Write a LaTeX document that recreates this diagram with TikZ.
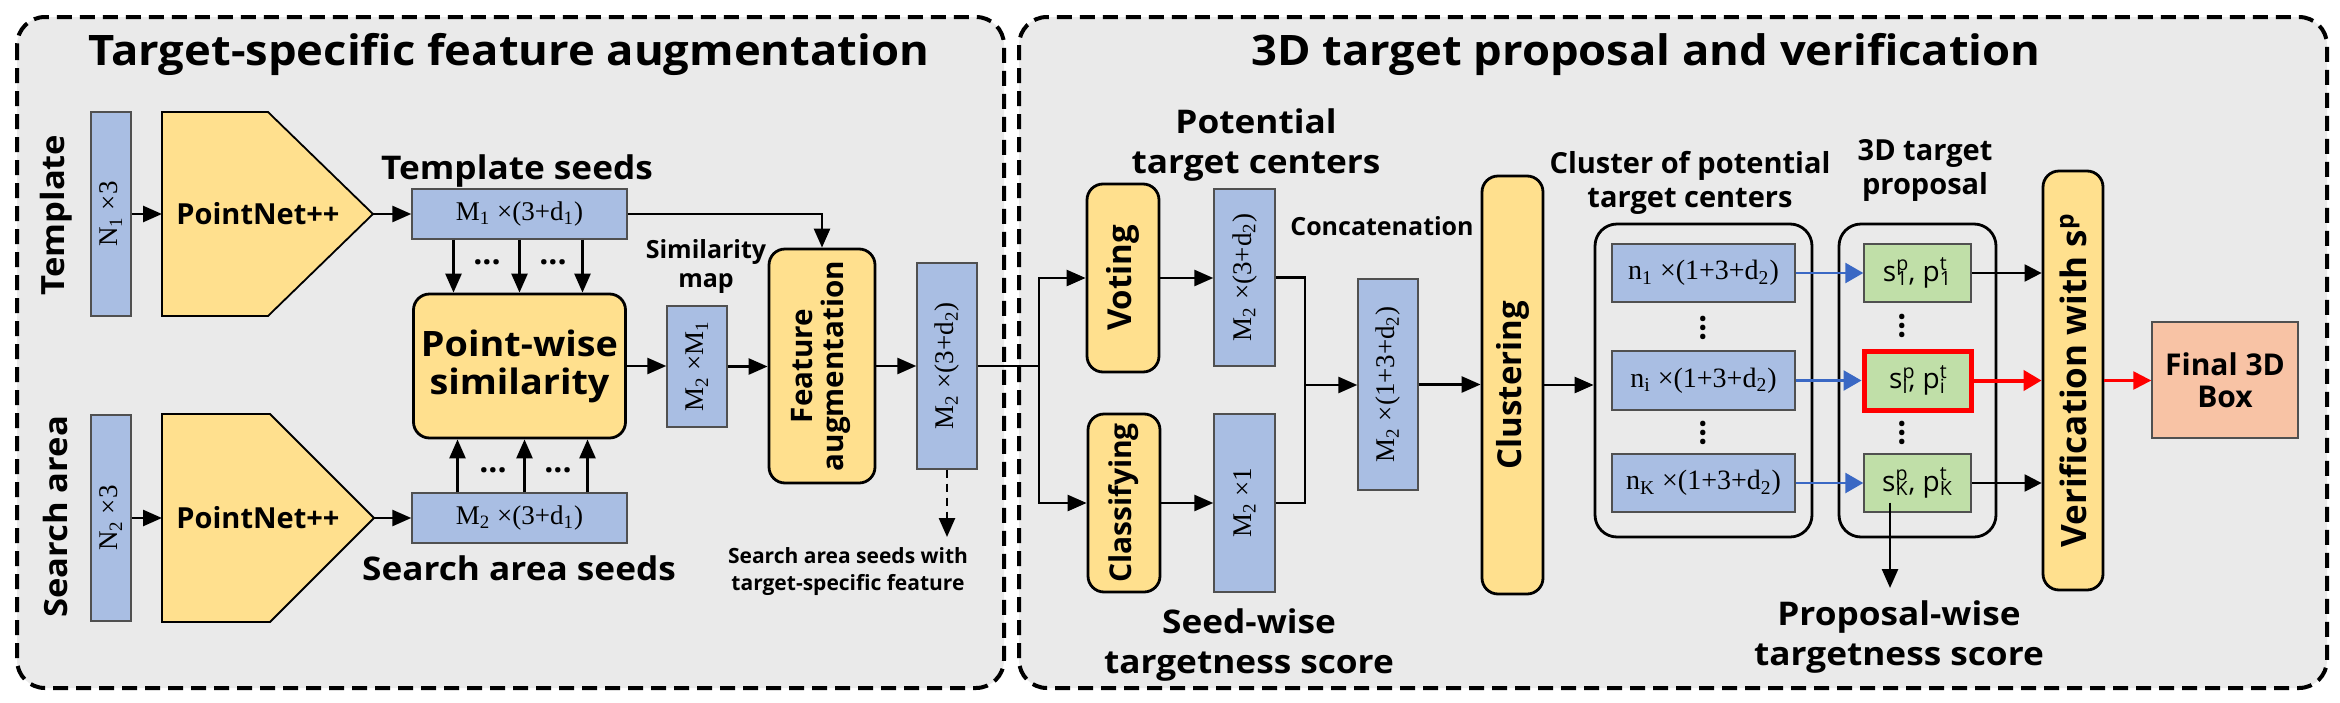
\documentclass[tikz,border=0pt]{standalone}
\usepackage{fontspec}
\usepackage{graphicx}
\setmainfont{Liberation Serif}
\setsansfont{Open Sans}
\newfontfamily\widesans{Open Sans}[FakeStretch=1.08]
\usetikzlibrary{arrows.meta,calc}
\definecolor{bluebox}{RGB}{169,190,227}
\definecolor{yellowbox}{RGB}{255,224,142}
\definecolor{greenbox}{RGB}{192,223,168}
\definecolor{salmonbox}{RGB}{248,195,165}
\definecolor{panelbg}{RGB}{234,234,234}
\definecolor{bluearrow}{RGB}{58,104,196}
\definecolor{boxedge}{RGB}{80,80,80}
\newcommand{\supsub}[2]{\rlap{\textsuperscript{#1}}\textsubscript{#2}}
\tikzset{
 bbox/.style={draw=boxedge, line width=0.7pt, fill=bluebox, inner sep=0pt, font=\fontsize{13.5pt}{16pt}\selectfont},
 ybox/.style={draw=black, line width=1.4pt, fill=yellowbox, rounded corners=8pt, inner sep=0pt, font=\sffamily\bfseries\fontsize{16.5pt}{17pt}\selectfont},
 gbox/.style={draw=boxedge, line width=0.7pt, fill=greenbox, inner sep=0pt, font=\sffamily\fontsize{14pt}{16pt}\selectfont},
 fbox/.style={draw=boxedge, line width=0.7pt, fill=salmonbox, inner sep=0pt, align=center, font=\sffamily\bfseries\fontsize{15pt}{16pt}\selectfont},
 grp/.style={draw=black, line width=1.4pt, rounded corners=11pt, inner sep=0pt},
 pent/.style={draw=black, line width=0.9pt, fill=yellowbox},
 pntext/.style={inner sep=0pt, font=\sffamily\bfseries\fontsize{14.5pt}{16pt}\selectfont},
 arr/.style={line width=1.3pt, -{Triangle[length=9.5pt,width=8pt]}},
 arrs/.style={line width=1.1pt, -{Triangle[length=8.5pt,width=8.5pt]}},
 barr/.style={draw=bluearrow, line width=1.3pt, -{Triangle[length=9pt,width=10pt]}},
 rarr/.style={draw=red, line width=2pt, -{Triangle[length=9pt,width=10pt]}},
 rarrs/.style={draw=red, line width=1.2pt, -{Triangle[length=9pt,width=9pt]}},
 ln/.style={line width=1.3pt},
 lab/.style={font=\widesans\bfseries\fontsize{16.3pt}{20pt}\selectfont, align=center, inner sep=0pt, anchor=base},
 mlab/.style={font=\sffamily\bfseries\fontsize{14.5pt}{17pt}\selectfont, align=center, inner sep=0pt, anchor=base},
 slab/.style={font=\sffamily\bfseries\fontsize{12.5pt}{14.5pt}\selectfont, align=center, inner sep=0pt, anchor=base},
 tlab/.style={font=\sffamily\bfseries\fontsize{10.5pt}{13.5pt}\selectfont, align=center, inner sep=0pt, anchor=base},
 title/.style={font=\widesans\bfseries\fontsize{21pt}{24pt}\selectfont, inner sep=0pt, anchor=base},
 dots/.style={font=\sffamily\bfseries\fontsize{16pt}{16pt}\selectfont, inner sep=0pt},
 panel/.style={draw=black, line width=2pt, dash pattern=on 7.5pt off 4pt, fill=panelbg, rounded corners=14pt},
}
\begin{document}
\begin{tikzpicture}[x=0.5pt,y=-0.5pt]
\useasboundingbox (0,0) rectangle (2340,702);
\draw[panel] (17,17) rectangle (1004,688);
\draw[panel] (1019,17) rectangle (2327,688);

% titles
\node[title] (t1) at (509,65) {Target-specific feature augmentation};
\node[title] (t2) at (1646,65) {3D target proposal and verification};

% left side labels
\node[inner sep=0pt, font=\widesans\bfseries\fontsize{16pt}{16pt}\selectfont] (ltemp) at (56,215) {\rotatebox{90}{Template}};
\node[inner sep=0pt, font=\widesans\bfseries\fontsize{16pt}{16pt}\selectfont] (lsearch) at (56,517) {\rotatebox{90}{Search area}};

% inputs
\node[bbox, minimum width=20pt, minimum height=102pt] (nA) at (111,214) {\rotatebox{90}{N\textsubscript{1} ×3}};
\node[bbox, minimum width=20pt, minimum height=103pt] (nB) at (111,518) {\rotatebox{90}{N\textsubscript{2} ×3}};

% PointNet++ blocks
\draw[pent] (162,112) -- (268,112) -- (373,214) -- (268,316) -- (162,316) -- cycle;
\coordinate (pnAin) at (162,214);
\coordinate (pnAout) at (373,214);
\node[pntext] (pnA) at (258,214) {PointNet++};
\draw[pent] (162,414) -- (270,414) -- (374,518) -- (270,622) -- (162,622) -- cycle;
\coordinate (pnBin) at (162,518);
\coordinate (pnBout) at (374,518);
\node[pntext] (pnB) at (258,518) {PointNet++};

% seeds
\node[bbox, minimum width=107.5pt, minimum height=25pt] (tseed) at (519.5,214) {M\textsubscript{1} ×(3+d\textsubscript{1})};
\node[bbox, minimum width=107.5pt, minimum height=25pt] (sseed) at (519.5,518) {M\textsubscript{2} ×(3+d\textsubscript{1})};
\node[lab] (ltseed) at (517,179) {Template seeds};
\node[lab] (lsseed) at (519,580) {Search area seeds};

% point-wise similarity
\node[ybox, minimum width=106pt, minimum height=72pt, align=center, font=\widesans\bfseries\fontsize{17.5pt}{19pt}\selectfont] (psim) at (519.5,366) {Point-wise\\similarity};
\node[dots] (d1) at (487,262) {...};
\node[dots] (d2) at (553,262) {...};
\node[dots] (d3) at (493,470) {...};
\node[dots] (d4) at (558,470) {...};

% similarity map
\node[bbox, minimum width=30pt, minimum height=60.5pt] (simmap) at (697,366.5) {\rotatebox{90}{M\textsubscript{2} ×M\textsubscript{1}}};
\node[slab] (lsim) at (706,287) {Similarity\\map};

% feature augmentation
\node[ybox, minimum width=53pt, minimum height=117pt, font=\sffamily\bfseries\fontsize{14.8pt}{15pt}\selectfont] (faug) at (822,366) {\rotatebox{90}{\begin{tabular}{@{}c@{}}Feature\\augmentation\end{tabular}}};
\node[bbox, minimum width=30pt, minimum height=103pt] (augout) at (947,366) {\rotatebox{90}{M\textsubscript{2} ×(3+d\textsubscript{2})}};
\coordinate (sdown) at (947,537);
\node[tlab] (lsaf) at (848,590) {Search area seeds with\\target-specific feature};

% right panel
\node[ybox, minimum width=36pt, minimum height=94pt] (voting) at (1123,278) {\rotatebox{90}{Voting}};
\node[ybox, minimum width=36pt, minimum height=89pt, font=\sffamily\bfseries\fontsize{15pt}{16pt}\selectfont] (classify) at (1124,503) {\rotatebox{90}{Classifying}};
\node[bbox, minimum width=30.5pt, minimum height=88.5pt] (voteout) at (1244.5,277.5) {\rotatebox{90}{M\textsubscript{2} ×(3+d\textsubscript{2})}};
\node[bbox, minimum width=30.5pt, minimum height=89pt] (clsout) at (1244.5,503) {\rotatebox{90}{M\textsubscript{2} ×1}};
\node[lab] (lpot) at (1256,173) {Potential\\target centers};
\node[lab] (lseed) at (1249,673) {Seed-wise\\targetness score};
\node[slab] (lcat) at (1382,235) {Concatenation};
\node[bbox, minimum width=30pt, minimum height=105.5pt] (concat) at (1388,384.5) {\rotatebox{90}{M\textsubscript{2} ×(1+3+d\textsubscript{2})}};
\node[ybox, minimum width=30.5pt, minimum height=209pt] (clustering) at (1512.5,385) {\rotatebox{90}{Clustering}};

% cluster group
\node[grp, minimum width=108.5pt, minimum height=156.5pt] (cgroup) at (1703.5,380.5) {};
\node[mlab] (lclus) at (1690,207) {Cluster of potential\\target centers};
\node[bbox, minimum width=91.5pt, minimum height=29pt, font=\fontsize{14pt}{16pt}\selectfont] (n1) at (1703.5,273) {n\textsubscript{1} ×(1+3+d\textsubscript{2})};
\node[bbox, minimum width=91.5pt, minimum height=29.5pt, font=\fontsize{14pt}{16pt}\selectfont] (ni) at (1703.5,380.5) {n\textsubscript{i} ×(1+3+d\textsubscript{2})};
\node[bbox, minimum width=91.5pt, minimum height=29pt, font=\fontsize{14pt}{16pt}\selectfont] (nK) at (1703.5,483) {n\textsubscript{K} ×(1+3+d\textsubscript{2})};
\node[dots] (v1) at (1703,328) {\rotatebox{90}{...}};
\node[dots] (v2) at (1703,433) {\rotatebox{90}{...}};

% proposal group
\node[grp, minimum width=78.5pt, minimum height=156.5pt] (pgroup) at (1917.5,380.5) {};
\node[mlab] (lprop) at (1925,194) {3D target\\proposal};
\node[gbox, minimum width=53.5pt, minimum height=29pt] (s1) at (1917.5,273) {s\supsub{p}{1}, p\supsub{t}{1}};
\node[gbox, minimum width=53.5pt, minimum height=29.5pt, draw=red, line width=2.5pt] (si) at (1917.5,380.5) {s\supsub{p}{i}, p\supsub{t}{i}};
\node[gbox, minimum width=53.5pt, minimum height=29pt] (sK) at (1917.5,483) {s\supsub{p}{K}, p\supsub{t}{K}};
\node[dots] (v3) at (1902,326) {\rotatebox{90}{...}};
\node[dots] (v4) at (1902,433) {\rotatebox{90}{...}};
\coordinate (pwend) at (1890,588);
\node[lab] (lpw) at (1899,665) {Proposal-wise\\targetness score};

% verification and final
\node[ybox, minimum width=30pt, minimum height=209.5pt, font=\sffamily\bfseries\fontsize{17.5pt}{18pt}\selectfont] (verif) at (2073,380.5) {\rotatebox{90}{Verification with s\textsuperscript{p}}};
\node[fbox, minimum width=73pt, minimum height=58pt] (final) at (2225,380) {Final 3D\\Box};

% connectors, left panel
\draw[arr] (nA.east) -- (pnAin);
\draw[arr] (pnAout) -- (tseed.west);
\draw[arr] (nB.east) -- (pnBin);
\draw[arr] (pnBout) -- (sseed.west);
\foreach \dx in {-66,0,63} \draw[arr] ($(tseed.south)+(\dx,0)$) -- ($(psim.north)+(\dx,0)$);
\foreach \dx in {-62,5,68} \draw[arr] ($(sseed.north)+(\dx,0)$) -- ($(psim.south)+(\dx,0)$);
\draw[arr] (psim.east) -- (psim.east -| simmap.west);
\draw[arr] (simmap.east) -- (simmap.east -| faug.west);
\draw[arr] (tseed.east) -| (faug.north);
\draw[arr] (faug.east) -- (faug.east -| augout.west);
\draw[arr, dash pattern=on 4pt off 3pt] (augout.south) -- (sdown);

% connectors, right panel
\coordinate (split) at (1039,366);
\coordinate (merge) at (1305,385);
\draw[ln] (augout.east) -- (split);
\draw[arr] (split) |- (voting.west);
\draw[arr] (split) |- (classify.west);
\draw[arr] (voting.east) -- (voting.east -| voteout.west);
\draw[arr] (classify.east) -- (classify.east -| clsout.west);
\draw[ln] (voteout.east) -| (merge);
\draw[ln] (clsout.east) -| (merge);
\draw[arr] (merge) -- (merge -| concat.west);
\draw[arr] (concat.east) -- (concat.east -| clustering.west);
\draw[arr] (clustering.east) -- (clustering.east -| cgroup.west);
\draw[barr] (n1.east) -- (s1.west);
\draw[barr] (ni.east) -- (si.west);
\draw[barr] (nK.east) -- (sK.west);
\draw[arrs] (s1.east) -- (s1.east -| verif.west);
\draw[rarr] (si.east) -- (si.east -| verif.west);
\draw[arrs] (sK.east) -- (sK.east -| verif.west);
\draw[rarrs] (verif.east) -- (verif.east -| final.west);
\draw[arr] ($(sK.south)+(-27.5,-10)$) -- (pwend);
\end{tikzpicture}
\end{document}
